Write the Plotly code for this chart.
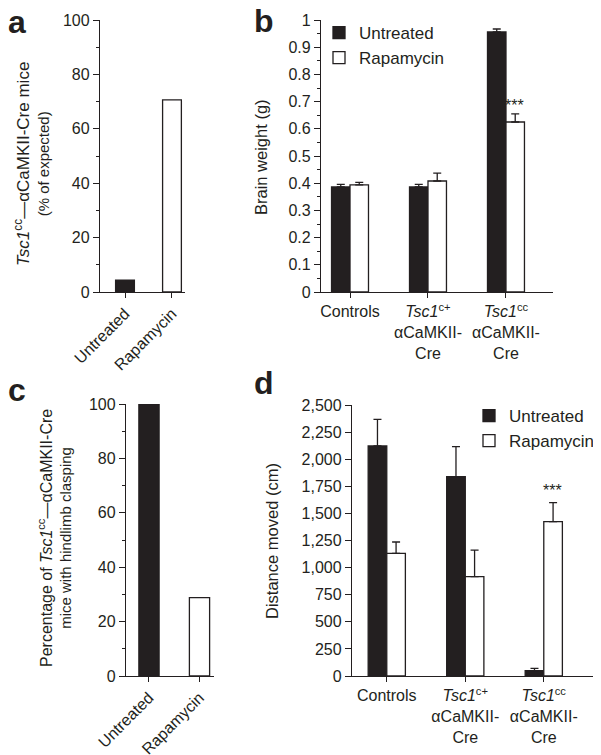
import plotly.graph_objects as go

# ---------------- data ----------------
treat_groups = ["Untreated", "Rapamycin"]
survival_pct = [4.4, 70.6]            # panel a
clasping_pct = [100, 28.8]            # panel c

genotypes = ["Controls", "Tsc1c+", "Tsc1cc"]
genotype_labels = ["Controls",
                   "<i>Tsc1</i><sup>c+</sup><br>αCaMKII-<br>Cre",
                   "<i>Tsc1</i><sup>cc</sup><br>αCaMKII-<br>Cre"]

brain_untreated = [0.386, 0.386, 0.956]
brain_untreated_err = [0.010, 0.010, 0.011]
brain_rapa = [0.394, 0.408, 0.625]
brain_rapa_err = [0.009, 0.029, 0.030]

dist_untreated = [2122, 1839, 49]
dist_untreated_err = [246, 277, 22]
dist_rapa = [1132, 916, 1424]
dist_rapa_err = [104, 246, 175]

# ---------------- style ----------------
PAGE_W, PAGE_H = 601, 755
OFF = 8                      # default page body margin
W, H = PAGE_W - OFF, PAGE_H - OFF
INK = "#231f20"
FONT = "Liberation Sans, Arial, sans-serif"

def fx(p):  # page pixel x -> paper fraction
    return (p - OFF) / W

def fy(p):  # page pixel y -> paper fraction
    return 1 - (p - OFF) / H

def px_x(a, b):
    return [fx(a), fx(b)]

def px_y(top, bottom):
    return [fy(bottom), fy(top)]

fig = go.Figure()

bar_line = dict(color=INK, width=1.3)
err_style = dict(type="data", symmetric=False, color=INK, thickness=1.3, width=4)

# panel a
fig.add_trace(go.Bar(x=treat_groups, y=survival_pct, width=0.40,
                     marker=dict(color=[INK, "white"], line=bar_line),
                     xaxis="x", yaxis="y", showlegend=False))
# panel c
fig.add_trace(go.Bar(x=treat_groups, y=clasping_pct, width=0.40,
                     marker=dict(color=[INK, "white"], line=bar_line),
                     xaxis="x3", yaxis="y3", showlegend=False))

BW = 0.237
# panel b
fig.add_trace(go.Bar(x=genotypes, y=brain_untreated, name="Untreated",
                     width=BW, offset=-BW,
                     marker=dict(color=INK, line=bar_line),
                     error_y=dict(err_style, array=brain_untreated_err,
                                  arrayminus=[0] * 3),
                     xaxis="x2", yaxis="y2", legend="legend"))
fig.add_trace(go.Bar(x=genotypes, y=brain_rapa, name="Rapamycin",
                     width=BW, offset=0,
                     marker=dict(color="white", line=bar_line),
                     error_y=dict(err_style, array=brain_rapa_err,
                                  arrayminus=[0] * 3),
                     xaxis="x2", yaxis="y2", legend="legend"))
# panel d
fig.add_trace(go.Bar(x=genotypes, y=dist_untreated, name="Untreated",
                     width=BW, offset=-BW,
                     marker=dict(color=INK, line=bar_line),
                     error_y=dict(err_style, array=dist_untreated_err,
                                  arrayminus=[0] * 3),
                     xaxis="x4", yaxis="y4", legend="legend2"))
fig.add_trace(go.Bar(x=genotypes, y=dist_rapa, name="Rapamycin",
                     width=BW, offset=0,
                     marker=dict(color="white", line=bar_line),
                     error_y=dict(err_style, array=dist_rapa_err,
                                  arrayminus=[0] * 3),
                     xaxis="x4", yaxis="y4", legend="legend2"))

tickfont = dict(family=FONT, size=16, color=INK)

def yax(domain, rng, dtick, minor_dtick, anchor, fmt=""):
    d = dict(domain=domain, range=rng, dtick=dtick, tick0=0, tickformat=fmt,
             showline=True, linecolor=INK, linewidth=1.3,
             ticks="outside", ticklen=6, tickwidth=1.3, tickcolor=INK,
             showgrid=False, zeroline=False, tickfont=tickfont,
             anchor=anchor, fixedrange=True, automargin=False)
    if minor_dtick:
        d["minor"] = dict(dtick=minor_dtick, tick0=0, ticks="outside",
                          ticklen=3, tickwidth=1.3, tickcolor=INK, showgrid=False)
    return d

def xax(domain, rng, anchor, angle=0, ticktext=None, tickvals=None):
    d = dict(domain=domain, range=rng, type="category",
             showline=True, linecolor=INK, linewidth=1.3,
             ticks="outside", ticklen=5, tickwidth=1.3, tickcolor=INK,
             showgrid=False, zeroline=False, tickfont=tickfont,
             tickangle=angle, anchor=anchor, fixedrange=True, automargin=False)
    if ticktext is not None:
        d["tickvals"] = tickvals
        d["ticktext"] = ticktext
    return d

fig.update_layout(
    width=W, height=H,
    margin=dict(l=0, r=0, t=0, b=0),
    paper_bgcolor="white", plot_bgcolor="white",
    font=dict(family=FONT, size=16, color=INK),
    barmode="overlay",
    xaxis=xax(px_x(100, 185), [-0.532, 1.277], "y", angle=-45),
    yaxis=yax(px_y(20, 292), [0, 100], 20, 10, "x"),
    xaxis2=xax(px_x(321, 553), [-0.372, 2.603], "y2",
               ticktext=genotype_labels, tickvals=genotypes),
    yaxis2=yax(px_y(20, 292), [0, 1], 0.1, 0.05, "x2"),
    xaxis3=xax(px_x(126, 214), [-0.455, 1.287], "y3", angle=-45),
    yaxis3=yax(px_y(404, 676), [0, 100], 20, 10, "x3"),
    xaxis4=xax(px_x(352, 593), [-0.443, 2.627], "y4",
               ticktext=genotype_labels, tickvals=genotypes),
    yaxis4=yax(px_y(405, 676), [0, 2500], 250, None, "x4", fmt=","),
    legend=dict(x=fx(319), y=fy(15), xanchor="left", yanchor="top",
                font=dict(family=FONT, size=17, color=INK),
                bgcolor="rgba(0,0,0,0)", tracegroupgap=0),
    legend2=dict(x=fx(469), y=fy(398), xanchor="left", yanchor="top",
                 font=dict(family=FONT, size=17, color=INK),
                 bgcolor="rgba(0,0,0,0)", tracegroupgap=0),
)

ann = []
# panel letters
for letter, x, y in [("a", 17, 22), ("b", 264, 21), ("c", 17, 390), ("d", 264, 383)]:
    ann.append(dict(text=letter, x=fx(x), y=fy(y), xref="paper", yref="paper",
                    showarrow=False, xanchor="center", yanchor="middle",
                    font=dict(family=FONT, size=32, color=INK, weight="bold")))
# axis titles
titles = [
    ('<span style="font-size:17px"><i>Tsc1</i><sup>cc</sup>—αCaMKII-Cre mice</span>'
     '<br>(% of expected)', 32, 164, 15),
    ("Brain weight (g)", 261, 157, 16.5),
    ('<span style="font-size:16px">Percentage of <i>Tsc1</i><sup>cc</sup>—αCaMKII-Cre</span>'
     '<br>mice with hindlimb clasping', 54, 538, 15),
    ("Distance moved (cm)", 272, 541, 16.5),
]
for t, x, y, s in titles:
    ann.append(dict(text=t, x=fx(x), y=fy(y), xref="paper", yref="paper",
                    showarrow=False, textangle=-90, xanchor="center", yanchor="middle",
                    font=dict(family=FONT, size=s, color=INK)))
# significance stars
ann.append(dict(text="***", x="Tsc1cc", y=0.685, xref="x2", yref="y2", xshift=9,
                showarrow=False, yanchor="middle", font=dict(family=FONT, size=16, color=INK)))
ann.append(dict(text="***", x="Tsc1cc", y=1710, xref="x4", yref="y4", xshift=9,
                showarrow=False, yanchor="middle", font=dict(family=FONT, size=16, color=INK)))
fig.update_layout(annotations=ann)

fig.write_html("out.html")
